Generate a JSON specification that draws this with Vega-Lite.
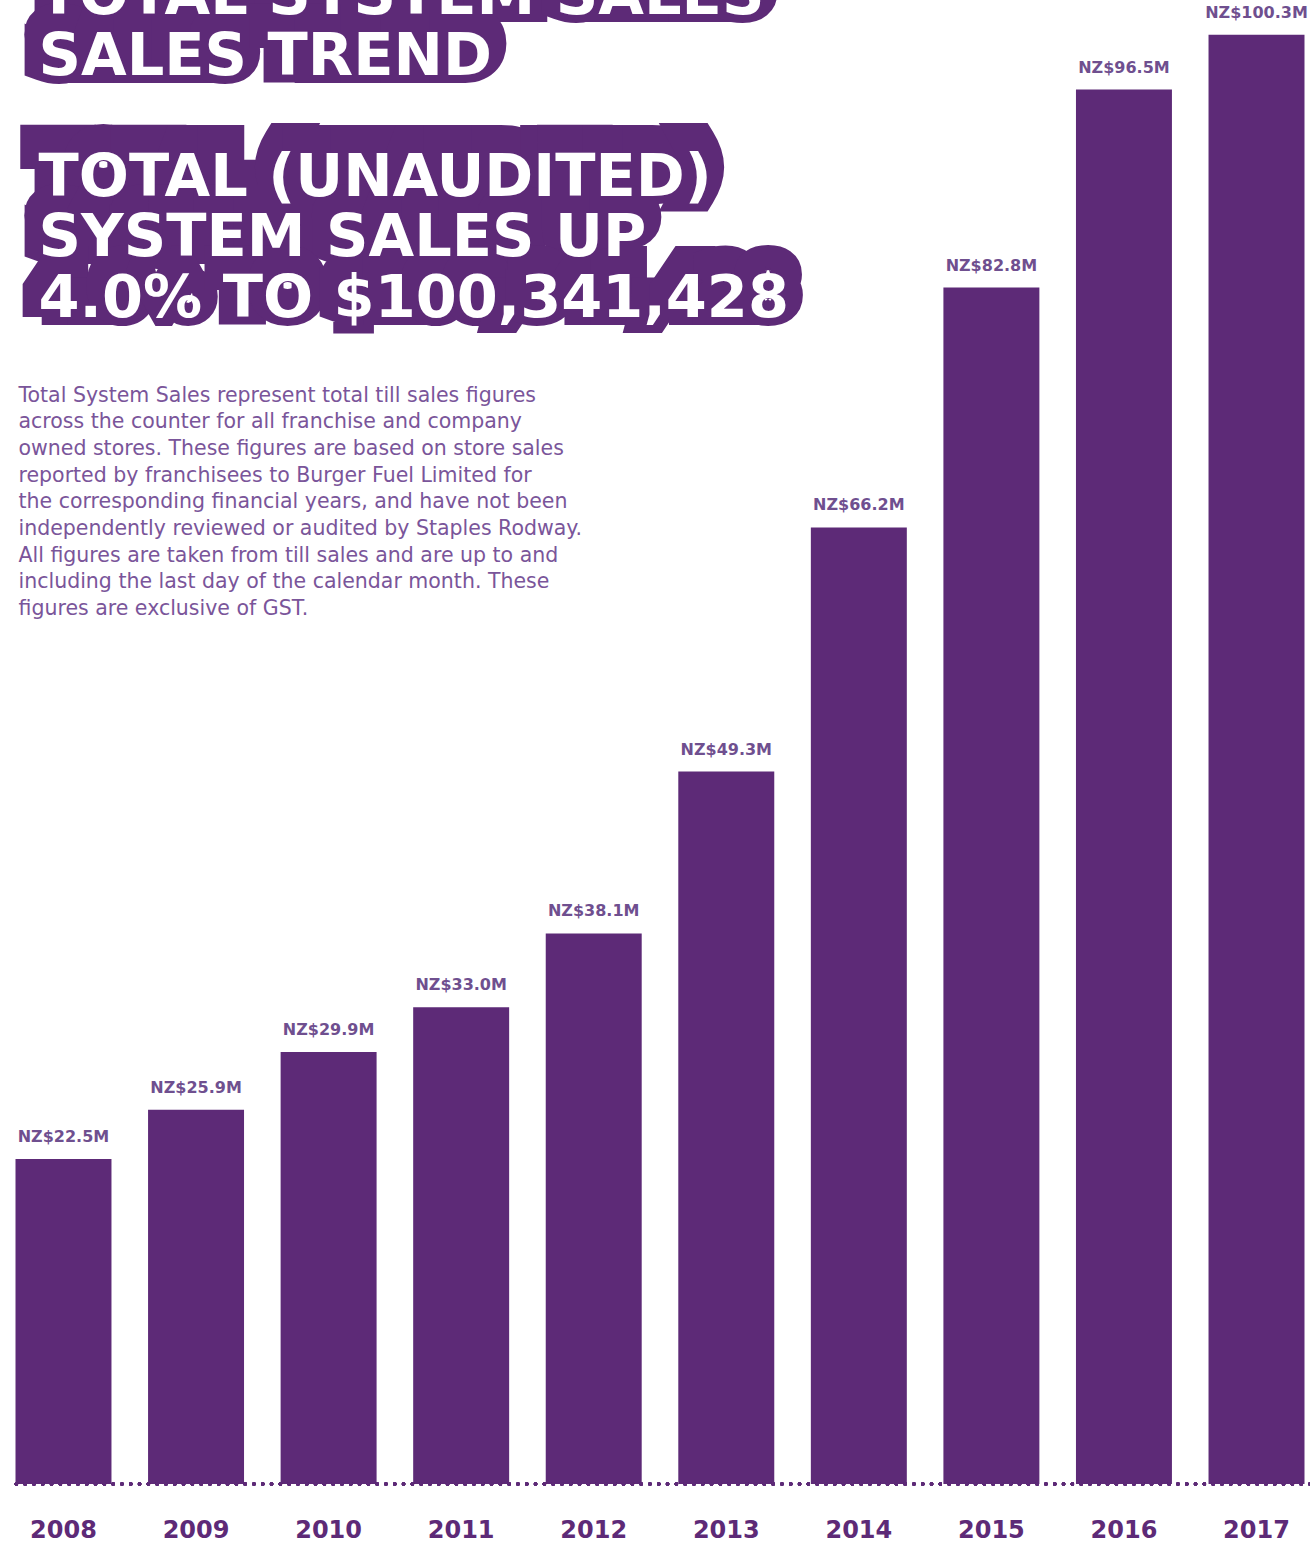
{
  "$schema": "https://vega.github.io/schema/vega-lite/v6.json",
  "width": 1300,
  "height": 1484,
  "autosize": "none",
  "padding": {"left": 10, "top": 0, "right": 0, "bottom": 59},
  "background": "white",
  "title": {
    "text": ["TOTAL SYSTEM SALES", "SALES TREND", "\u200b", "TOTAL (UNAUDITED)", "SYSTEM SALES UP", "4.0% TO $100,341,428"],
    "style": "blob",
    "anchor": "start",
    "frame": "group",
    "orient": "top",
    "dx": 28,
    "dy": 356,
    "font": "DejaVu Sans",
    "fontSize": 59,
    "fontWeight": "bold",
    "lineHeight": 60.5,
    "color": "#5d2a77"
  },
  "data": {
    "values": [
      {"year": "2008", "sales": 22.5, "label": "NZ$22.5M"},
      {"year": "2009", "sales": 25.9, "label": "NZ$25.9M"},
      {"year": "2010", "sales": 29.9, "label": "NZ$29.9M"},
      {"year": "2011", "sales": 33.0, "label": "NZ$33.0M"},
      {"year": "2012", "sales": 38.1, "label": "NZ$38.1M"},
      {"year": "2013", "sales": 49.3, "label": "NZ$49.3M"},
      {"year": "2014", "sales": 66.2, "label": "NZ$66.2M"},
      {"year": "2015", "sales": 82.8, "label": "NZ$82.8M"},
      {"year": "2016", "sales": 96.5, "label": "NZ$96.5M"},
      {"year": "2017", "sales": 100.3, "label": "NZ$100.3M"}
    ]
  },
  "encoding": {
    "x": {
      "field": "year",
      "type": "nominal",
      "sort": null,
      "scale": {"paddingInner": 0.276, "paddingOuter": 0.0415},
      "axis": {
        "zindex": 1,
        "domain": false,
        "ticks": false,
        "labelAngle": 0,
        "labelFont": "DejaVu Sans",
        "labelFontSize": 24,
        "labelFontWeight": "bold",
        "labelColor": "#5d2a77",
        "labelBaseline": "alphabetic",
        "labelPadding": 53,
        "title": ["TOTAL SYSTEM SALES", "SALES TREND", "\u200b", "TOTAL (UNAUDITED)", "SYSTEM SALES UP", "4.0% TO $100,341,428"],
        "titleAngle": 0,
        "titleAlign": "left",
        "titleBaseline": "alphabetic",
        "titleX": 28,
        "titleY": -1470.5,
        "titleFont": "DejaVu Sans",
        "titleFontSize": 59,
        "titleFontWeight": "bold",
        "titleLineHeight": 60.5,
        "titleColor": "white"
      }
    },
    "y": {
      "field": "sales",
      "type": "quantitative",
      "scale": {"domain": [0, 102.7], "nice": false},
      "axis": {
        "domain": false,
        "ticks": false,
        "labels": false,
        "grid": false,
        "title": [
          "Total System Sales represent total till sales figures",
          "across the counter for all franchise and company",
          "owned stores. These figures are based on store sales",
          "reported by franchisees to Burger Fuel Limited for",
          "the corresponding financial years, and have not been",
          "independently reviewed or audited by Staples Rodway.",
          "All figures are taken from till sales and are up to and",
          "including the last day of the calendar month. These",
          "figures are exclusive of GST."
        ],
        "titleAngle": 0,
        "titleAlign": "left",
        "titleBaseline": "alphabetic",
        "titleX": 8,
        "titleY": 401,
        "titleFont": "DejaVu Sans",
        "titleFontSize": 20.5,
        "titleFontWeight": "normal",
        "titleLineHeight": 26.7,
        "titleColor": "#7a559a"
      }
    }
  },
  "layer": [
    {"mark": {"type": "bar", "color": "#5d2a77"}},
    {
      "mark": {
        "type": "rule",
        "color": "#5d2a77",
        "strokeWidth": 3.5,
        "strokeCap": "round",
        "strokeDash": [0.1, 8.7]
      },
      "encoding": {"x": null, "y": {"datum": 0}}
    },
    {
      "mark": {
        "type": "text",
        "baseline": "alphabetic",
        "dy": -17,
        "font": "DejaVu Sans",
        "fontSize": 16,
        "fontWeight": "bold",
        "color": "#6f4f8f"
      },
      "encoding": {"text": {"field": "label"}}
    }
  ],
  "config": {
    "view": {"stroke": null},
    "style": {
      "blob": {
        "stroke": "#5d2a77",
        "strokeWidth": 36,
        "strokeJoin": "miter",
        "strokeMiterLimit": 2
      }
    }
  }
}
